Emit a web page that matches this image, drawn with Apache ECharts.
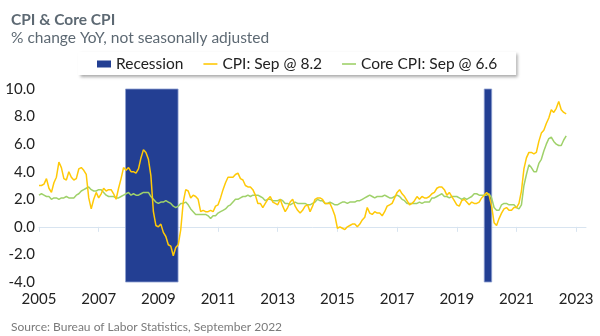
<!DOCTYPE html>
<html>
<head>
<meta charset="utf-8">
<script src="https://cdn.jsdelivr.net/npm/echarts@6/dist/echarts.min.js"></script>
<style>
html,body{margin:0;padding:0;background:#fff;}
#c{width:600px;height:336px;}
</style>
</head>
<body>
<div id="c"></div>
<script>
// Monthly data, Jan 2005 .. Sep 2022 (% change YoY, NSA)
const startYear = 2005;
const cpi = [
  3.0,3.0,3.1,3.5,2.8,2.5,3.2,3.6,4.7,4.3,3.5,3.4,   // 2005
  4.0,3.6,3.4,3.5,4.2,4.3,4.1,3.8,2.1,1.3,2.0,2.5,   // 2006
  2.1,2.4,2.8,2.6,2.7,2.7,2.4,2.0,2.8,3.5,4.3,4.1,   // 2007
  4.3,4.0,4.0,3.9,4.2,5.0,5.6,5.4,4.9,3.7,1.1,0.1,   // 2008
  0.0,0.2,-0.4,-0.7,-1.3,-1.4,-2.1,-1.5,-1.3,-0.2,1.8,2.7, // 2009
  2.6,2.1,2.3,2.2,2.0,1.1,1.2,1.1,1.1,1.2,1.1,1.5,   // 2010
  1.6,2.1,2.7,3.2,3.6,3.6,3.6,3.8,3.9,3.5,3.4,3.0,   // 2011
  2.9,2.9,2.7,2.3,1.7,1.7,1.4,1.7,2.0,2.2,1.8,1.7,   // 2012
  1.6,2.0,1.5,1.1,1.4,1.8,2.0,1.5,1.2,1.0,1.2,1.5,   // 2013
  1.6,1.1,1.5,2.0,2.1,2.1,2.0,1.7,1.7,1.7,1.3,0.8,   // 2014
  -0.1,0.0,-0.1,-0.2,0.0,0.1,0.2,0.2,0.0,0.2,0.5,0.7, // 2015
  1.4,1.0,0.9,1.1,1.0,1.0,0.8,1.1,1.5,1.6,1.7,2.1,   // 2016
  2.5,2.7,2.4,2.2,1.9,1.6,1.7,1.9,2.2,2.0,2.2,2.1,   // 2017
  2.1,2.2,2.4,2.5,2.8,2.9,2.9,2.7,2.3,2.5,2.2,1.9,   // 2018
  1.6,1.5,1.9,2.0,1.8,1.6,1.8,1.7,1.7,1.8,2.1,2.3,   // 2019
  2.5,2.3,1.5,0.3,0.1,0.6,1.0,1.3,1.4,1.2,1.2,1.4,   // 2020
  1.4,1.7,2.6,4.2,5.0,5.4,5.4,5.3,5.4,6.2,6.8,7.0,   // 2021
  7.5,7.9,8.5,8.3,8.6,9.1,8.5,8.3,8.2                // 2022
];
const coreCpi = [
  2.3,2.4,2.3,2.2,2.2,2.0,2.1,2.1,2.0,2.1,2.1,2.2,   // 2005
  2.1,2.1,2.1,2.3,2.4,2.6,2.7,2.8,2.9,2.7,2.6,2.6,   // 2006
  2.7,2.7,2.5,2.3,2.2,2.2,2.2,2.1,2.1,2.2,2.3,2.4,   // 2007
  2.5,2.3,2.4,2.3,2.3,2.4,2.5,2.5,2.5,2.2,2.0,1.8,   // 2008
  1.7,1.8,1.8,1.9,1.8,1.7,1.5,1.4,1.5,1.7,1.7,1.8,   // 2009
  1.6,1.3,1.1,0.9,0.9,0.9,0.9,0.9,0.8,0.6,0.8,0.8,   // 2010
  1.0,1.1,1.2,1.3,1.5,1.6,1.8,2.0,2.0,2.1,2.2,2.2,   // 2011
  2.3,2.2,2.3,2.3,2.3,2.2,2.1,1.9,2.0,2.0,1.9,1.9,   // 2012
  1.9,2.0,1.9,1.7,1.7,1.6,1.7,1.8,1.7,1.7,1.7,1.7,   // 2013
  1.6,1.6,1.7,1.8,2.0,1.9,1.9,1.7,1.7,1.8,1.7,1.6,   // 2014
  1.6,1.7,1.8,1.8,1.7,1.8,1.8,1.8,1.9,1.9,2.0,2.1,   // 2015
  2.2,2.3,2.2,2.1,2.2,2.2,2.2,2.3,2.2,2.1,2.1,2.2,   // 2016
  2.3,2.2,2.0,1.9,1.7,1.7,1.7,1.7,1.7,1.8,1.7,1.8,   // 2017
  1.8,1.8,2.1,2.1,2.2,2.3,2.4,2.2,2.2,2.1,2.2,2.2,   // 2018
  2.2,2.1,2.0,2.1,2.0,2.1,2.2,2.4,2.4,2.3,2.3,2.3,   // 2019
  2.3,2.4,2.1,1.4,1.2,1.2,1.6,1.7,1.7,1.6,1.6,1.6,   // 2020
  1.4,1.3,1.6,3.0,3.8,4.5,4.3,4.0,4.0,4.6,4.9,5.5,   // 2021
  6.0,6.4,6.5,6.2,6.0,5.9,5.9,6.3,6.6                // 2022
];
// Recession shading (decimal years as drawn)
const recessionStart = [2007.9, 2019.92];
const recessionEnd   = [2009.66, 2020.17];
// Tick labels
const xTicks = [2005, 2007, 2009, 2011, 2013, 2015, 2017, 2019, 2021, 2023];
const yTicks = [-4, -2, 0, 2, 4, 6, 8, 10];

const toXY = arr => arr.map((v, i) => [startYear + i / 12, v]);
const FONT = 'Lato';
const LINE_ICON = 'path://M0,0H14V1.6H0Z';
const chart = echarts.init(document.getElementById('c'), null, {renderer: 'canvas'});
const option = {
  animation: false,
  textStyle: {fontFamily: FONT},
  title: [
    {text: 'CPI & Core CPI', left: 6, top: 7,
     textStyle: {fontFamily: FONT, fontSize: 15.5, fontWeight: 'bold', color: '#5d6973'}},
    {text: '% change YoY, not seasonally adjusted', left: 6, top: 25,
     textStyle: {fontFamily: FONT, fontSize: 15.5, fontWeight: 'normal', color: '#5d6973'}},
    {text: 'Source: Bureau of Labor Statistics, September 2022', left: 6, top: 316,
     textStyle: {fontFamily: FONT, fontSize: 12, fontWeight: 'normal', color: '#7a7a7a'}}
  ],
  legend: {
    left: 78, top: 52,
    padding: [4, 19, 3, 19],
    itemGap: 20,
    itemWidth: 14, itemHeight: 7,
    backgroundColor: '#fff',
    shadowColor: 'rgba(0,0,0,0.35)', shadowBlur: 3, shadowOffsetX: 2, shadowOffsetY: 2,
    textStyle: {fontFamily: FONT, fontSize: 15.5, color: '#222'},
    data: [
      {name: 'Recession', icon: 'rect'},
      {name: 'CPI: Sep @ 8.2', icon: LINE_ICON},
      {name: 'Core CPI: Sep @ 6.6', icon: LINE_ICON}
    ]
  },
  grid: {left: 39, right: 14, top: 89, bottom: 54, containLabel: false},
  xAxis: [
    {type: 'value', min: 2005, max: 2023.33, position: 'bottom',
     axisLine: {show: true, onZero: true, lineStyle: {color: '#d8e4f0', width: 1}},
     axisTick: {show: true, length: 5, customValues: xTicks, lineStyle: {color: '#d8e4f0'}},
     axisLabel: {show: false},
     splitLine: {show: false}},
    {type: 'value', min: 2005, max: 2023.33, position: 'bottom',
     axisLine: {show: false, onZero: false},
     axisTick: {show: false},
     axisLabel: {show: true, customValues: xTicks, margin: 10, fontFamily: FONT, fontSize: 15, color: '#222',
                 formatter: v => String(Math.round(v))},
     splitLine: {show: false}}
  ],
  yAxis: {
    type: 'value', min: -4, max: 10, interval: 2,
    axisLine: {show: false}, axisTick: {show: false}, splitLine: {show: false},
    axisLabel: {margin: 4, fontFamily: FONT, fontSize: 15, color: '#222',
                customValues: yTicks, formatter: v => v.toFixed(1)}
  },
  series: [
    {
      name: 'Recession', type: 'line', data: [], z: -1,
      itemStyle: {color: '#233f93'},
      lineStyle: {color: '#233f93'},
      markArea: {
        silent: true,
        itemStyle: {color: '#233f93', borderColor: '#8ea0d0', borderWidth: 0.8},
        data: recessionStart.map((s, i) => [{xAxis: s}, {xAxis: recessionEnd[i]}])
      }
    },
    {
      name: 'Core CPI: Sep @ 6.6', type: 'line', data: toXY(coreCpi),
      symbol: 'none', showSymbol: false, z: 3,
      lineStyle: {color: '#9fd16a', width: 1.5},
      itemStyle: {color: '#9fd16a'}
    },
    {
      name: 'CPI: Sep @ 8.2', type: 'line', data: toXY(cpi),
      symbol: 'none', showSymbol: false, z: 4,
      lineStyle: {color: '#ffc907', width: 1.5},
      itemStyle: {color: '#ffc907'}
    }
  ]
};
chart.setOption(option);
</script>
</body>
</html>
